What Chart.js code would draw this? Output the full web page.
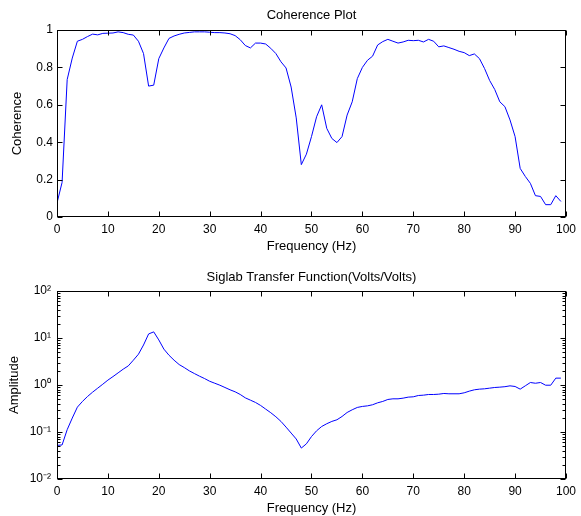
<!DOCTYPE html>
<html>
<head>
<meta charset="utf-8">
<script src="https://cdn.jsdelivr.net/npm/chart.js@4"></script>
<style>
  body { margin: 0; background: #fff; }
  #wrap { position: relative; width: 581px; height: 516px; }
  canvas { position: absolute; left: 0; }
</style>
</head>
<body>
<div id="wrap">
  <canvas id="cohChart" width="581" height="258" style="top:0"></canvas>
  <canvas id="ampChart" width="581" height="258" style="top:258px"></canvas>
</div>
<script>
// frequency bins (Hz)
const freqHz = [0,1,2,3,4,5,6,7,8,9,10,11,12,13,14,15,16,17,18,19,20,21,22,23,24,25,26,27,28,29,
  30,31,32,33,34,35,36,37,38,39,40,41,42,43,44,45,46,47,48,49,50,51,52,53,54,55,56,57,58,59,
  60,61,62,63,64,65,66,67,68,69,70,71,72,73,74,75,76,77,78,79,80,81,82,83,84,85,86,87,88,89,
  90,91,92,93,94,95,96,97,98,99];

const coherence = [0.075,0.185,0.735,0.85,0.94,0.95,0.965,0.978,0.974,0.982,
  0.983,0.984,0.99,0.986,0.977,0.973,0.94,0.874,0.70,0.705,
  0.847,0.904,0.955,0.968,0.977,0.984,0.987,0.99,0.99,0.99,
  0.988,0.986,0.986,0.984,0.98,0.97,0.948,0.917,0.904,0.93,
  0.93,0.925,0.902,0.874,0.83,0.797,0.695,0.53,0.28,0.336,
  0.43,0.536,0.6,0.474,0.42,0.398,0.43,0.545,0.616,0.74,
  0.80,0.838,0.86,0.92,0.938,0.95,0.94,0.93,0.936,0.945,
  0.943,0.945,0.936,0.95,0.94,0.91,0.915,0.906,0.897,0.886,
  0.879,0.863,0.872,0.847,0.794,0.73,0.682,0.616,0.59,0.519,
  0.43,0.26,0.217,0.18,0.114,0.11,0.066,0.066,0.114,0.083];

const amplitude = [0.052,0.053,0.112,0.198,0.338,0.447,0.57,0.705,0.857,1.04,
  1.27,1.51,1.81,2.17,2.55,3.37,4.52,7.1,12.2,13.5,
  9.1,5.8,4.3,3.37,2.72,2.35,2.0,1.75,1.54,1.37,
  1.2,1.09,0.99,0.885,0.79,0.716,0.628,0.533,0.476,0.425,
  0.367,0.307,0.257,0.211,0.168,0.127,0.095,0.071,0.0455,0.056,
  0.08,0.106,0.131,0.15,0.168,0.182,0.214,0.26,0.297,0.333,
  0.35,0.36,0.38,0.418,0.447,0.492,0.508,0.508,0.525,0.552,
  0.561,0.598,0.608,0.628,0.628,0.638,0.66,0.65,0.65,0.65,
  0.682,0.74,0.79,0.816,0.83,0.857,0.885,0.9,0.92,0.96,
  0.93,0.816,0.96,1.13,1.09,1.13,0.99,0.99,1.40,1.40];

const cohTicks = [0, 0.2, 0.4, 0.6, 0.8, 1];
const ampTicks = [0.01, 0.1, 1, 10, 100];
const ampTickLabels = ["10\u207B\u00B2", "10\u207B\u00B9", "10\u2070", "10\u00B9", "10\u00B2"];

const FONT = "'Liberation Sans', Arial, Helvetica, sans-serif";
const LINE = "#0000ff";

// matlab style box, inward ticks and title over the plot area
const matlabAxes = {
  id: "matlabAxes",
  afterDraw(chart, args, opts) {
    const { ctx, chartArea: a, scales } = chart;
    const L = Math.round(a.left) + 0.5, R = Math.round(a.right) - 0.5;
    const T = Math.round(a.top) + 0.5, B = Math.round(a.bottom) - 0.5;
    ctx.save();
    ctx.strokeStyle = "#000";
    ctx.lineWidth = 1;
    ctx.beginPath();
    scales.x.ticks.forEach((t) => {
      const px = Math.round(scales.x.getPixelForValue(t.value)) + 0.5;
      ctx.moveTo(px, B); ctx.lineTo(px, B - 5);
      ctx.moveTo(px, T); ctx.lineTo(px, T + 5);
    });
    scales.y.ticks.forEach((t) => {
      const py = Math.round(scales.y.getPixelForValue(t.value)) + 0.5;
      ctx.moveTo(L, py); ctx.lineTo(L + 5, py);
      ctx.moveTo(R, py); ctx.lineTo(R - 5, py);
    });
    if (opts.minor) {
      for (let d = 0; d < ampTicks.length - 1; d++) {
        for (let m = 2; m < 10; m++) {
          const py = Math.round(scales.y.getPixelForValue(ampTicks[d] * m)) + 0.5;
          ctx.moveTo(L, py); ctx.lineTo(L + 3, py);
          ctx.moveTo(R, py); ctx.lineTo(R - 3, py);
        }
      }
    }
    ctx.stroke();
    ctx.strokeRect(L, T, R - L, B - T);
    ctx.fillStyle = "#000";
    ctx.font = "13px " + FONT;
    ctx.textAlign = "center";
    ctx.textBaseline = "middle";
    ctx.fillText(opts.title, (a.left + a.right) / 2, opts.titleY);
    ctx.restore();
  },
};

function xScale(titlePad, height) {
  return {
    type: "linear",
    min: 0,
    max: 100,
    grid: { display: false, drawTicks: false },
    border: { display: false },
    ticks: { stepSize: 10, padding: 5, color: "#000", font: { family: FONT, size: 12 } },
    title: { display: true, text: "Frequency (Hz)", color: "#000", font: { family: FONT, size: 13 }, padding: { top: 0, bottom: titlePad } },
    afterFit: (s) => { s.height = height; },
  };
}

new Chart(document.getElementById("cohChart"), {
  type: "line",
  data: {
    datasets: [{
      data: freqHz.map((f, i) => ({ x: f, y: coherence[i] })),
      borderColor: LINE,
      borderWidth: 1,
      pointRadius: 0,
      tension: 0,
    }],
  },
  options: {
    responsive: false,
    animation: false,
    devicePixelRatio: 1,
    layout: { padding: { top: 30, right: 12, left: 0, bottom: 0 } },
    plugins: {
      legend: { display: false },
      tooltip: { enabled: false },
      matlabAxes: { title: "Coherence Plot", titleY: 15, minor: false },
    },
    scales: {
      x: xScale(4, 41),
      y: {
        type: "linear",
        min: 0,
        max: 1,
        grid: { display: false, drawTicks: false },
        border: { display: false },
        afterBuildTicks: (s) => { s.ticks = cohTicks.map((v) => ({ value: v })); },
        ticks: { padding: 4, color: "#000", font: { family: FONT, size: 12 }, callback: (v) => String(v) },
        title: { display: true, text: "Coherence", color: "#000", font: { family: FONT, size: 13 }, padding: { top: 10, bottom: 0 } },
        afterFit: (s) => { s.width = 57; },
      },
    },
  },
  plugins: [matlabAxes],
});

new Chart(document.getElementById("ampChart"), {
  type: "line",
  data: {
    datasets: [{
      data: freqHz.map((f, i) => ({ x: f, y: amplitude[i] })),
      borderColor: LINE,
      borderWidth: 1,
      pointRadius: 0,
      tension: 0,
    }],
  },
  options: {
    responsive: false,
    animation: false,
    devicePixelRatio: 1,
    layout: { padding: { top: 33, right: 12, left: 0, bottom: 0 } },
    plugins: {
      legend: { display: false },
      tooltip: { enabled: false },
      matlabAxes: { title: "Siglab Transfer Function(Volts/Volts)", titleY: 19, minor: true },
    },
    scales: {
      x: xScale(0, 37),
      y: {
        type: "logarithmic",
        min: 0.01,
        max: 100,
        grid: { display: false, drawTicks: false },
        border: { display: false },
        afterBuildTicks: (s) => { s.ticks = ampTicks.map((v) => ({ value: v })); },
        ticks: {
          padding: 6,
          color: "#000",
          font: { family: FONT, size: 12 },
          callback: (v) => ampTickLabels[ampTicks.indexOf(v)] ?? "",
        },
        title: { display: true, text: "Amplitude", color: "#000", font: { family: FONT, size: 13 }, padding: { top: 7, bottom: 0 } },
        afterFit: (s) => { s.width = 57; },
      },
    },
  },
  plugins: [matlabAxes],
});
</script>
</body>
</html>
